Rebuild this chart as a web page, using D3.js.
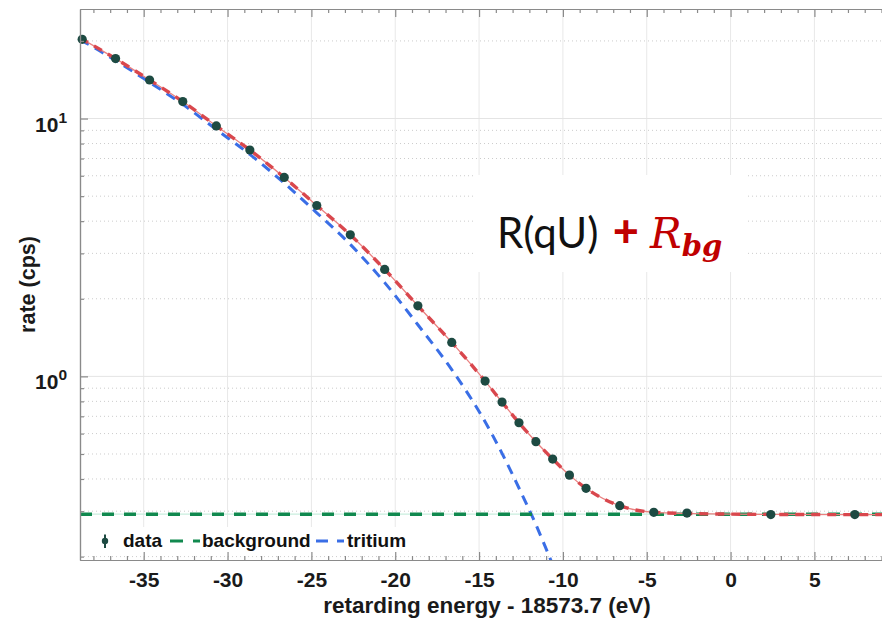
<!DOCTYPE html>
<html>
<head>
<meta charset="utf-8">
<script src="https://cdn.jsdelivr.net/npm/d3@7"></script>
<style>
  body { margin: 0; background: #fff; }
  svg { display: block; font-family: "Liberation Sans", Arial, Helvetica, sans-serif; }
</style>
</head>
<body>
<svg id="chart" width="882" height="619"></svg>
<script>
// scan points: retarding energy - 18573.7 (eV) and measured rate (cps)
const dataE = [-38.67, -36.68, -34.65, -32.67, -30.67, -28.67, -26.62, -24.68, -22.68, -20.63, -18.65, -16.63,
               -14.64, -13.63, -12.62, -11.61, -10.61, -9.61, -8.62, -6.61, -4.58, -2.6, 2.4, 7.41];
const dataRate = [20.29, 17.08, 14.11, 11.64, 9.36, 7.55, 5.91, 4.60, 3.54, 2.60, 1.878, 1.354,
                  0.959, 0.795, 0.661, 0.558, 0.478, 0.414, 0.368, 0.315, 0.297, 0.295, 0.291, 0.291];

// fit model R(qU) + Rbg
const fitE = [-38.8, -38.67, -36.68, -34.65, -32.67, -30.67, -28.67, -26.62, -24.68, -22.68, -20.63, -18.65, -16.63,
              -14.64, -13.63, -12.62, -11.61, -10.61, -9.61, -8.62, -6.61, -4.58, -2.6, 2.4, 7.41, 9.15];
const fitRate = [20.5, 20.29, 17.08, 14.11, 11.64, 9.36, 7.55, 5.91, 4.60, 3.54, 2.60, 1.878, 1.354,
                 0.959, 0.795, 0.661, 0.558, 0.478, 0.414, 0.368, 0.315, 0.297, 0.294, 0.2915, 0.291, 0.291];

// background component
const bgE = [-38.8, 9.15];
const bgRate = [0.292, 0.292];

// tritium component
const tritE = [-38.8, -38.67, -36.68, -34.65, -32.67, -30.67, -28.67, -26.62, -24.68, -22.68, -20.63, -18.65, -16.63,
               -14.64, -13.63, -12.62, -11.61, -10.61];
const tritRate = [20.2, 20.0, 16.79, 13.82, 11.35, 9.07, 7.26, 5.62, 4.31, 3.25, 2.31, 1.586, 1.062,
                  0.667, 0.503, 0.369, 0.266, 0.186];

// ticks
const xMajor = [-35, -30, -25, -20, -15, -10, -5, 0, 5];
const xMinor = d3.range(-38, 10, 1).filter(v => v % 5 !== 0);
const yMajor = [1, 10];
const yMinor = [0.2, 0.3, 0.4, 0.5, 0.6, 0.7, 0.8, 0.9, 2, 3, 4, 5, 6, 7, 8, 9, 20];

const legendNames = ["data", "background", "tritium"];

//Set dimensions of the plot area
const pLeft = 80, pRight = 884, pTop = 9, pBottom = 560;

const xScale = d3.scaleLinear().domain([-38.8, 9.15]).range([pLeft, pRight]);
const yScale = d3.scaleLog().domain([0.194, 26.6]).range([pBottom, pTop]);

const svg = d3.select("#chart");

svg.append("rect").attr("width", 882).attr("height", 619).attr("fill", "#fff");

svg.append("clipPath").attr("id", "plotclip")
   .append("rect")
   .attr("x", pLeft).attr("y", pTop)
   .attr("width", pRight - pLeft).attr("height", pBottom - pTop);

//Grid lines
const grid = svg.append("g");
grid.selectAll(".vgrid").data(xMajor).enter().append("line")
    .attr("x1", d => xScale(d)).attr("x2", d => xScale(d))
    .attr("y1", pTop).attr("y2", pBottom)
    .attr("stroke", "#e8e8e8").attr("stroke-width", 1);
grid.selectAll(".hgrid").data(yMajor).enter().append("line")
    .attr("x1", pLeft).attr("x2", pRight)
    .attr("y1", d => yScale(d)).attr("y2", d => yScale(d))
    .attr("stroke", "#e4e4e4").attr("stroke-width", 1);
grid.selectAll(".hminor").data(yMinor).enter().append("line")
    .attr("x1", pLeft).attr("x2", pRight)
    .attr("y1", d => yScale(d)).attr("y2", d => yScale(d))
    .attr("stroke", "#cccccc").attr("stroke-width", 1)
    .attr("stroke-dasharray", "1,3");

//White boxes behind the annotation and the legend
svg.append("rect").attr("x", 475).attr("y", 175).attr("width", 272).attr("height", 97).attr("fill", "#fff");
svg.append("rect").attr("x", 81).attr("y", 527).attr("width", 330).attr("height", 29).attr("fill", "#fff");

//Curves
const curves = svg.append("g").attr("clip-path", "url(#plotclip)");
const line = d3.line()
    .x(d => xScale(d[0]))
    .y(d => yScale(d[1]))
    .curve(d3.curveMonotoneX);

const bgPts = bgE.map((e, i) => [e, bgRate[i]]);
const fitPts = fitE.map((e, i) => [e, fitRate[i]]);
const tritPts = tritE.map((e, i) => [e, tritRate[i]]);

curves.append("path").attr("d", line(bgPts))
    .attr("fill", "none").attr("stroke", "#c9eede").attr("stroke-width", 1.2);
curves.append("path").attr("d", line(tritPts))
    .attr("fill", "none").attr("stroke", "#3a6ee6").attr("stroke-width", 3)
    .attr("stroke-dasharray", "10,7");
curves.append("path").attr("d", line(bgPts))
    .attr("fill", "none").attr("stroke", "#11894f").attr("stroke-width", 3.5)
    .attr("stroke-dasharray", "12,10");
curves.append("path").attr("d", line(fitPts))
    .attr("fill", "none").attr("stroke", "#ea8080").attr("stroke-width", 1.3);
curves.append("path").attr("d", line(fitPts))
    .attr("fill", "none").attr("stroke", "#d9474d").attr("stroke-width", 3.4)
    .attr("stroke-dasharray", "9,7");

//Data points
svg.append("g").selectAll("circle")
   .data(dataE.map((e, i) => [e, dataRate[i]]))
   .enter()
   .append("circle")
   .attr("cx", d => xScale(d[0]))
   .attr("cy", d => yScale(d[1]))
   .attr("r", 4.6)
   .attr("fill", "#1d4a42");

//Axes
function styleAxis(g) {
  g.selectAll(".domain").attr("stroke", "#8a8a8a").attr("stroke-width", 1.2);
  g.selectAll(".tick line").attr("stroke", "#8a8a8a").attr("stroke-width", 1.2);
  g.selectAll(".tick text").attr("fill", "#1a1a1a").attr("font-weight", "bold")
   .attr("font-family", "'Liberation Sans', Arial, sans-serif");
}

svg.append("g").attr("transform", "translate(0," + pBottom + ")")
   .call(d3.axisBottom(xScale).tickValues(xMinor).tickSize(-4).tickSizeOuter(0).tickFormat(""))
   .call(styleAxis);
svg.append("g").attr("transform", "translate(0," + pBottom + ")")
   .call(d3.axisBottom(xScale).tickValues(xMajor).tickSize(-8).tickSizeOuter(0).tickPadding(12)
         .tickFormat(d => String(d)))   // plain hyphen like the original
   .call(styleAxis)
   .selectAll(".tick text").attr("font-size", 21);

svg.append("g").attr("transform", "translate(0," + pTop + ")")
   .call(d3.axisTop(xScale).tickValues(xMinor).tickSize(-4).tickSizeOuter(0).tickFormat(""))
   .call(styleAxis);
svg.append("g").attr("transform", "translate(0," + pTop + ")")
   .call(d3.axisTop(xScale).tickValues(xMajor).tickSize(-8).tickSizeOuter(0).tickFormat(""))
   .call(styleAxis);

svg.append("g").attr("transform", "translate(" + pLeft + ",0)")
   .call(d3.axisLeft(yScale).tickValues(yMinor).tickSize(-4).tickSizeOuter(0).tickFormat(""))
   .call(styleAxis);
const yAx = svg.append("g").attr("transform", "translate(" + pLeft + ",0)")
   .call(d3.axisLeft(yScale).tickValues(yMajor).tickSize(-8).tickSizeOuter(0).tickPadding(13).tickFormat(""))
   .call(styleAxis);

//Power-of-ten labels with superscript
yAx.selectAll(".tick text").each(function (d) {
  const t = d3.select(this).attr("font-size", 21).attr("dy", "0.6em");
  t.append("tspan").text("10");
  t.append("tspan").attr("font-size", 15.5).attr("dy", -9).text(Math.round(Math.log10(d)));
});

//Axis labels
svg.append("text")
   .attr("x", 487).attr("y", 613)
   .attr("text-anchor", "middle")
   .attr("font-size", 22.5).attr("font-weight", "bold").attr("fill", "#1a1a1a")
   .text("retarding energy - 18573.7 (eV)");

svg.append("text")
   .attr("transform", "translate(35," + (pTop + pBottom) / 2 + ") rotate(-90)")
   .attr("text-anchor", "middle")
   .attr("font-size", 21.5).attr("font-weight", "bold").attr("fill", "#1a1a1a")
   .text("rate (cps)");

//Legend
const leg = svg.append("g");
leg.append("line").attr("x1", 105).attr("x2", 105).attr("y1", 534.5).attr("y2", 548)
   .attr("stroke", "#1d4a42").attr("stroke-width", 2);
leg.append("circle").attr("cx", 105).attr("cy", 541).attr("r", 3.2).attr("fill", "#1d4a42");
leg.append("line").attr("x1", 170).attr("x2", 200).attr("y1", 541).attr("y2", 541)
   .attr("stroke", "#11894f").attr("stroke-width", 3).attr("stroke-dasharray", "13,10");
leg.append("line").attr("x1", 316).attr("x2", 344).attr("y1", 541).attr("y2", 541)
   .attr("stroke", "#3a6ee6").attr("stroke-width", 3).attr("stroke-dasharray", "12,9");
const legX = [123, 202, 347];
leg.selectAll("text").data(legendNames).enter().append("text")
   .attr("x", (d, i) => legX[i]).attr("y", 547)
   .attr("font-size", 19).attr("font-weight", "bold").attr("fill", "#111")
   .text(d => d);

//Annotation
const ann = svg.append("text").attr("x", 497).attr("y", 248);
ann.append("tspan").attr("font-family", "Lato, 'Open Sans', sans-serif").attr("font-size", 42)
   .attr("fill", "#111").text("R(qU)");
ann.append("tspan").attr("x", 613).attr("y", 247).attr("font-family", "'Liberation Sans', Arial, sans-serif")
   .attr("font-size", 44).attr("font-weight", "bold").attr("fill", "#c00000").text("+");
ann.append("tspan").attr("x", 650).attr("y", 248).attr("font-family", "'DejaVu Serif', 'Liberation Serif', serif")
   .attr("font-style", "italic").attr("font-size", 42).attr("fill", "#c00000").text("R");
ann.append("tspan").attr("dy", 8).attr("font-family", "'DejaVu Serif', 'Liberation Serif', serif")
   .attr("font-style", "italic").attr("font-weight", "bold").attr("font-size", 29).attr("fill", "#c00000").text("bg");
</script>
</body>
</html>
